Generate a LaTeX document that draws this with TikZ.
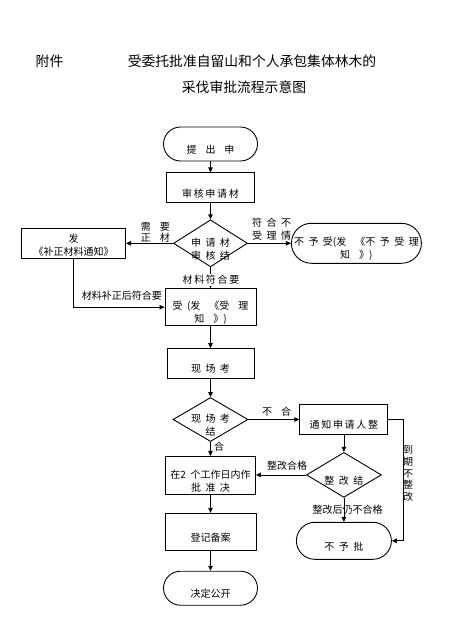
\documentclass[tikz,border=0pt]{standalone}
\usepackage{fontspec}
\setmainfont{Noto Sans CJK SC}[WordSpace=2]
\usetikzlibrary{arrows.meta,positioning,shapes.geometric}
\tikzset{
  txt/.style={font=\fontsize{10}{13}\selectfont, align=center, inner sep=0pt, yshift=-5.5pt},
  lab/.style={font=\fontsize{10}{12}\selectfont, inner sep=0pt},
  proc/.style={draw, line width=0.9pt, inner sep=0pt},
  term/.style={proc, rounded corners=#1},
  dec/.style={proc, diamond},
  head/.style={font=\fontsize{13.8}{16}\selectfont, inner sep=0pt},
  arrow/.style={-{Triangle[length=5pt,width=4.5pt]}, line width=0.8pt}
}
\begin{document}
\begin{tikzpicture}[x=1pt, y=-1pt]
  \useasboundingbox (0,0) rectangle (466,624);
  % title
  \node[head] (att) at (49.5,61) {附件};
  \node[head] (title1) at (252,61) {受委托批准自留山和个人承包集体林木的};
  \node[head] (title2) at (244,87) {采伐审批流程示意图};

  % main column
  \node[term=17pt, minimum width=94pt, minimum height=34pt, label={[txt]center:提~~出~~申}] (start) at (210.5,144) {};
  \node[proc, minimum width=88pt, minimum height=30pt, below=11pt of start, label={[txt]center:审\,核\,申\,请\,材}] (check) {};
  \node[dec, minimum width=74pt, minimum height=47pt, below=16pt of check, label={[txt]center:申~请~材\\审~核~结}] (res) {};
  \node[proc, minimum width=104pt, minimum height=30pt, left=47pt of res, label={[txt, yshift=3.5pt]center:发\\《补正材料通知》}] (fix) {};
  \node[term=20pt, minimum width=130pt, minimum height=40pt, right=43pt of res, label={[txt]center:不~予~受(发~~《不~予~受~理\\知~~》)}] (reject) {};
  \node[proc, minimum width=91pt, minimum height=37pt, below=21pt of res, label={[txt]center:受~(发~~《受~~理\\知~~》)}] (accept) {};
  \node[proc, minimum width=87pt, minimum height=30pt, below=22pt of accept, label={[txt]center:现~场~考}] (site) {};
  \node[dec, minimum width=75pt, minimum height=44pt, below=18pt of site, label={[txt]center:现~场~考\\结}] (siteres) {};
  \node[proc, minimum width=90pt, minimum height=38pt, below=14pt of siteres, label={[txt]center:在2 个工作日内作\\批~准~决}] (decide) {};
  \node[proc, minimum width=91pt, minimum height=37pt, below=18pt of decide, label={[txt]center:登记备案}] (record) {};
  \node[term=17pt, minimum width=94pt, minimum height=34pt, below=20pt of record, label={[txt]center:决定公开}] (publish) {};

  % right column
  \node[proc, minimum width=88pt, minimum height=30pt, right=51pt of siteres, label={[txt]center:通\,知\,申\,请\,人\,整}] (notify) {};
  \node[dec, minimum width=75pt, minimum height=45pt, below=17pt of notify, label={[txt]center:整~改~结}] (fixres) {};
  \node[term=18.5pt, minimum width=95pt, minimum height=37pt, below=24pt of fixres, label={[txt]center:不~予~批}] (deny) {};

  % arrows
  \draw[arrow] (start) -- (check);
  \draw[arrow] (check) -- (res);
  \draw[arrow] (res.west) -- (res.west -| fix.east);
  \draw[arrow] (res.east) -- (res.east -| reject.west);
  \draw[arrow] (fix.south) |- (accept.west);
  \draw[arrow] (res) -- (accept);
  \draw[arrow] (accept) -- (site);
  \draw[arrow] (site) -- (siteres);
  \draw[arrow] (siteres.east) -- (siteres.east -| notify.west);
  \draw[arrow] (siteres) -- (decide);
  \draw[arrow] (notify) -- (fixres);
  \draw[arrow] (fixres.west) -- (fixres.west -| decide.east);
  \draw[arrow] (fixres) -- (deny);
  \draw[arrow] (notify.east) -- ++(15,0) |- (deny.east);
  \draw[arrow] (decide) -- (record);
  \draw[arrow] (record) -- (publish);

  % labels
  \node[lab, anchor=base east] (need1) at (170,230.8) {需~~要};
  \node[lab, anchor=base east] (need2) at (170,241.8) {正~~材};
  \node[lab, anchor=base west] (no1) at (252,226.8) {符~合~不};
  \node[lab, anchor=base west] (no2) at (252,239.8) {受~理~情};
  \node[lab, anchor=base east] (fixok) at (162,299.8) {材料补正后符合要};
  \node[lab, fill=white, inner sep=1pt] (ok) at (211,280) {材\,料\,符\,合\,要};
  \node[lab, anchor=base west] (bad) at (262,415.8) {不~~合};
  \node[lab, anchor=base west] (good) at (214,450.8) {合};
  \node[lab, anchor=base west] (fixgood) at (267,469.8) {整改合格};
  \node[lab, anchor=base] (fixbad) at (347.5,513.8) {整改后仍不合格};
  \node[lab, align=center, font=\fontsize{10}{11.7}\selectfont] (late) at (408,473.5) {到\\期\\不\\整\\改};
\end{tikzpicture}
\end{document}
